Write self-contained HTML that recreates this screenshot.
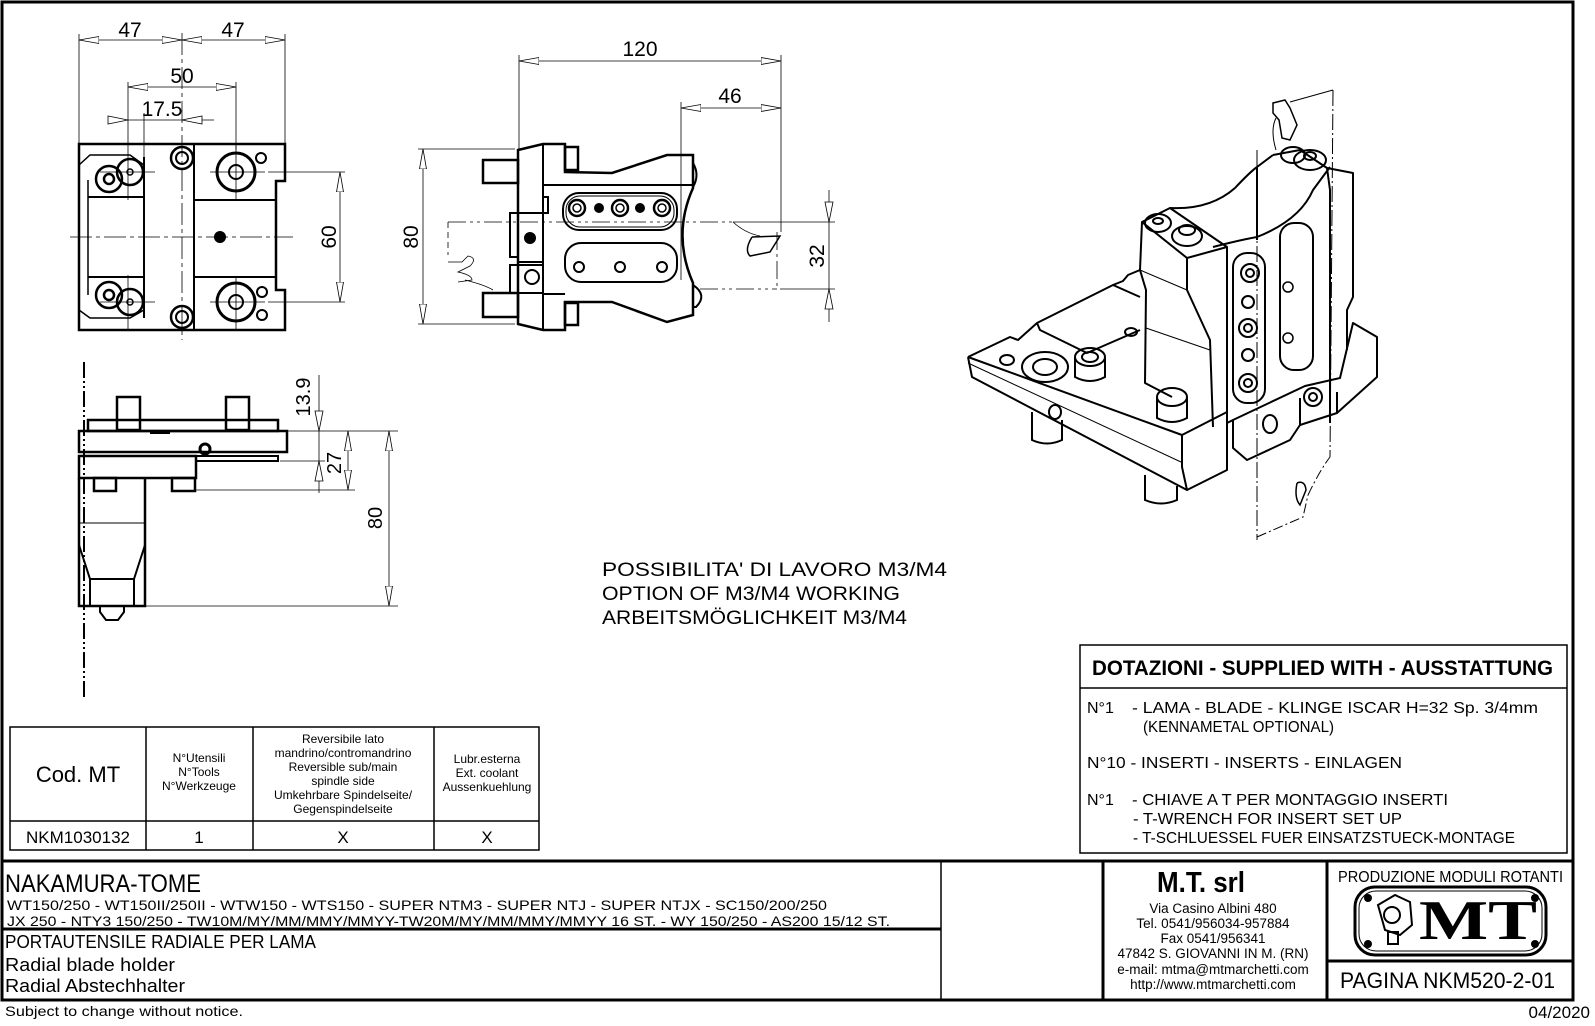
<!DOCTYPE html>
<html><head><meta charset="utf-8"><style>
html,body{margin:0;padding:0;background:#fff}
svg{display:block}
text{font-family:"Liberation Sans",sans-serif;fill:#000}
</style></head><body>
<svg width="1595" height="1026" viewBox="0 0 1595 1026" xmlns="http://www.w3.org/2000/svg">
<defs>
<marker id="ar" viewBox="0 0 20 8" refX="20" refY="4" markerWidth="20" markerHeight="8" markerUnits="userSpaceOnUse" orient="auto-start-reverse">
<path d="M0,0.5 L20,4 L0,7.5 Z" fill="#fff" stroke="#000" stroke-width="0.8"/>
</marker>
</defs>
<rect x="0" y="0" width="1595" height="1026" fill="#fff"/>
<!-- frame -->
<rect x="2" y="2" width="1571" height="998" fill="none" stroke="#000" stroke-width="3"/>

<!-- ============ TOP-LEFT VIEW ============ -->
<g fill="none" stroke="#000">
<path d="M79,144 L285,144 L285,181 L276,181 L276,290 L285,290 L285,330 L79,330 Z" stroke-width="2.5"/>
<line x1="194" y1="144" x2="194" y2="330" stroke-width="2"/>
<line x1="88" y1="180" x2="88" y2="295" stroke-width="1.5"/>
<line x1="144" y1="157" x2="144" y2="318" stroke-width="2"/>
<line x1="88" y1="197" x2="144" y2="197" stroke-width="2"/>
<line x1="88" y1="277" x2="144" y2="277" stroke-width="2"/>
<line x1="194" y1="200" x2="276" y2="200" stroke-width="2"/>
<line x1="194" y1="277" x2="276" y2="277" stroke-width="2"/>
<path d="M79,165 L90,155 L130,155 L144,165" stroke-width="1.5"/>
<path d="M79,310 L90,318 L130,318 L144,310" stroke-width="1.5"/>
<circle cx="109" cy="179" r="13" stroke-width="2.5"/><circle cx="109" cy="179" r="5" stroke-width="2.5"/>
<circle cx="130" cy="172" r="13" stroke-width="2.5"/><circle cx="130" cy="172" r="3" stroke-width="1.5"/>
<circle cx="109" cy="295" r="13" stroke-width="2.5"/><circle cx="109" cy="295" r="5" stroke-width="2.5"/>
<circle cx="130" cy="302" r="13" stroke-width="2.5"/><circle cx="130" cy="302" r="3" stroke-width="1.5"/>
<circle cx="182" cy="158" r="11" stroke-width="2.5"/><circle cx="182" cy="158" r="6" stroke-width="2"/>
<circle cx="182" cy="317" r="11" stroke-width="2.5"/><circle cx="182" cy="317" r="6" stroke-width="2"/>
<circle cx="236" cy="172" r="19" stroke-width="3"/><circle cx="236" cy="172" r="7" stroke-width="2"/>
<circle cx="236" cy="302" r="19" stroke-width="3"/><circle cx="236" cy="302" r="7" stroke-width="2"/>
<circle cx="261" cy="158" r="5" stroke-width="2"/><circle cx="262" cy="292" r="5" stroke-width="2"/><circle cx="262" cy="315" r="5" stroke-width="2"/>
</g>
<circle cx="220" cy="237" r="6" fill="#000"/>
<g stroke="#000" stroke-width="0.8" fill="none">
<line x1="70" y1="237" x2="293" y2="237" stroke-dasharray="22 4 4 4"/>
<line x1="182" y1="33" x2="182" y2="340" stroke-dasharray="22 4 4 4"/>
<line x1="100" y1="172" x2="155" y2="172"/><line x1="210" y1="172" x2="265" y2="172"/>
<line x1="100" y1="302" x2="155" y2="302"/><line x1="210" y1="302" x2="265" y2="302"/>
<line x1="236" y1="145" x2="236" y2="200"/><line x1="236" y1="277" x2="236" y2="330"/>
<line x1="128" y1="150" x2="128" y2="200"/><line x1="128" y1="275" x2="128" y2="330"/>
<!-- dims -->
<line x1="79" y1="34" x2="79" y2="144"/><line x1="285" y1="34" x2="285" y2="144"/>
<line x1="79" y1="40" x2="182" y2="40" marker-start="url(#ar)" marker-end="url(#ar)"/>
<line x1="182" y1="40" x2="285" y2="40" marker-start="url(#ar)" marker-end="url(#ar)"/>
<line x1="128" y1="82" x2="128" y2="150"/><line x1="236" y1="82" x2="236" y2="150"/>
<line x1="128" y1="87" x2="236" y2="87" marker-start="url(#ar)" marker-end="url(#ar)"/>
<line x1="144" y1="113" x2="144" y2="157"/>
<line x1="112" y1="120" x2="214" y2="120"/>
<line x1="268" y1="172" x2="345" y2="172"/><line x1="268" y1="302" x2="345" y2="302"/>
<line x1="340" y1="172" x2="340" y2="302" marker-start="url(#ar)" marker-end="url(#ar)"/>
</g>
<polygon points="128,120 108,116 108,124" fill="#fff" stroke="#000" stroke-width="0.8" transform="translate(0,0)"/>
<polygon points="182,120 202,116 202,124" fill="#fff" stroke="#000" stroke-width="0.8"/>
<text x="130" y="37" font-size="21" text-anchor="middle">47</text>
<text x="233" y="37" font-size="21" text-anchor="middle">47</text>
<text x="182" y="83" font-size="21" text-anchor="middle">50</text>
<text x="162" y="116" font-size="21" text-anchor="middle">17.5</text>
<text transform="translate(336,237) rotate(-90)" font-size="21" text-anchor="middle">60</text>

<!-- ============ TOP-MIDDLE VIEW ============ -->
<g fill="none" stroke="#000" stroke-width="2.5">
<rect x="483" y="160" width="35" height="23"/>
<rect x="483" y="293" width="35" height="24"/>
<path d="M518,150 L543,144 L565,144 L565,172 L612,173 L667,155 L693,155 L693,188 Q672,235 693,283 L693,315 L667,322 L612,302 L565,302 L565,330 L543,330 L518,324 Z"/>
<rect x="565" y="147" width="13" height="23"/>
<rect x="565" y="303" width="13" height="22"/>
<line x1="543" y1="144" x2="543" y2="330" stroke-width="2"/>
<line x1="543" y1="185" x2="693" y2="185" stroke-width="2"/>
<line x1="543" y1="294" x2="565" y2="294" stroke-width="2"/>
<path d="M543,197 L548,197 L548,213 L510,213 L510,257 L518,257 L518,262 L543,262" stroke-width="2"/>
<rect x="510" y="265" width="33" height="28" stroke-width="2"/>
<rect x="563" y="193" width="114" height="37" rx="16" stroke-width="2"/>
<rect x="566" y="196" width="108" height="31" rx="14" stroke-width="1"/>
<rect x="565" y="243" width="112" height="39" rx="16" stroke-width="2"/>
<circle cx="577" cy="208" r="8"/><circle cx="577" cy="208" r="4" stroke-width="1.5"/>
<circle cx="620" cy="208" r="8"/><circle cx="620" cy="208" r="4" stroke-width="1.5"/>
<circle cx="662" cy="208" r="8"/><circle cx="662" cy="208" r="4" stroke-width="1.5"/>
<circle cx="579" cy="267" r="5" stroke-width="2"/><circle cx="620" cy="267" r="5" stroke-width="2"/><circle cx="662" cy="267" r="5" stroke-width="2"/>
<circle cx="532" cy="277" r="7" stroke-width="2"/>
<path d="M693,163 Q700,175 693,187" stroke-width="2"/>
<path d="M693,285 Q708,295 696,307 L693,307" stroke-width="2"/>
</g>
<circle cx="599" cy="208" r="5" fill="#000"/><circle cx="640" cy="208" r="5" fill="#000"/>
<circle cx="530" cy="238" r="6" fill="#000"/>
<g stroke="#000" stroke-width="0.8" fill="none">
<line x1="448" y1="222" x2="733" y2="222" stroke-dasharray="18 4 3 4 3 4"/>
<line x1="700" y1="289" x2="777" y2="289" stroke-dasharray="18 4 3 4 3 4"/>
<line x1="777" y1="232" x2="777" y2="289" stroke-dasharray="18 4 3 4"/>
<line x1="448" y1="222" x2="448" y2="255" stroke-dasharray="6 4"/>
<path d="M733,222 Q745,233 760,236"/>
<path d="M752,237 L780,236 L770,252 L750,256 Q744,250 752,237" stroke-width="1.5"/>
<path d="M448,262 L462,262 L468,256 Q478,258 470,266 L458,272 Q472,275 472,280 L458,282"/>
<path d="M465,280 Q485,285 493,290"/>
<!-- dims -->
<line x1="519" y1="55" x2="519" y2="150"/><line x1="781" y1="55" x2="781" y2="232"/>
<line x1="519" y1="61" x2="781" y2="61" marker-start="url(#ar)" marker-end="url(#ar)"/>
<line x1="681" y1="102" x2="681" y2="280"/>
<line x1="681" y1="108" x2="781" y2="108" marker-start="url(#ar)" marker-end="url(#ar)"/>
<line x1="418" y1="149" x2="515" y2="149"/><line x1="418" y1="324" x2="515" y2="324"/>
<line x1="423" y1="149" x2="423" y2="324" marker-start="url(#ar)" marker-end="url(#ar)"/>
<line x1="733" y1="222" x2="835" y2="222"/><line x1="780" y1="289" x2="835" y2="289"/>
<line x1="829" y1="190" x2="829" y2="322"/>
</g>
<polygon points="829,222 825,202 833,202" fill="#fff" stroke="#000" stroke-width="0.8"/>
<polygon points="829,289 825,309 833,309" fill="#fff" stroke="#000" stroke-width="0.8"/>
<text x="640" y="56" font-size="21" text-anchor="middle">120</text>
<text x="730" y="103" font-size="21" text-anchor="middle">46</text>
<text transform="translate(418,237) rotate(-90)" font-size="21" text-anchor="middle">80</text>
<text transform="translate(824,256) rotate(-90)" font-size="21" text-anchor="middle">32</text>

<!-- ============ SIDE VIEW ============ -->
<g fill="none" stroke="#000" stroke-width="2.5">
<rect x="88" y="420" width="190" height="11"/>
<rect x="117" y="397" width="23" height="33"/>
<rect x="226" y="397" width="23" height="33"/>
<rect x="79" y="431" width="208" height="21"/>
<rect x="79" y="456" width="117" height="22"/>
<rect x="196" y="456" width="82" height="5" stroke-width="2"/>
<rect x="94" y="478" width="22" height="13"/>
<rect x="172" y="478" width="23" height="13"/>
<path d="M79,478 L79,606 L145,606 L145,478"/>
<line x1="79" y1="523" x2="145" y2="523" stroke-width="1"/>
<path d="M79,545 L90,579 L134,579 L145,545" stroke-width="2"/>
<line x1="90" y1="579" x2="90" y2="606" stroke-width="2"/>
<line x1="134" y1="579" x2="134" y2="606" stroke-width="2"/>
<path d="M100,606 L100,612 L106,620 L118,620 L124,612 L124,606" stroke-width="2"/>
<line x1="150" y1="433" x2="170" y2="433" stroke-width="2"/>
</g>
<circle cx="205" cy="449" r="5" fill="none" stroke="#000" stroke-width="3"/>
<g stroke="#000" stroke-width="0.8" fill="none">
<line x1="84" y1="362" x2="84" y2="700" stroke-dasharray="16 3 2 3 2 3" stroke-width="2"/>
<line x1="287" y1="431" x2="398" y2="431"/>
<line x1="280" y1="461" x2="325" y2="461"/>
<line x1="196" y1="490" x2="355" y2="490"/>
<line x1="145" y1="606" x2="398" y2="606"/>
<line x1="319" y1="375" x2="319" y2="493"/>
<line x1="348" y1="431" x2="348" y2="490" marker-start="url(#ar)" marker-end="url(#ar)"/>
<line x1="389" y1="431" x2="389" y2="606" marker-start="url(#ar)" marker-end="url(#ar)"/>
</g>
<polygon points="319,431 315,411 323,411" fill="#fff" stroke="#000" stroke-width="0.8"/>
<polygon points="319,461 315,481 323,481" fill="#fff" stroke="#000" stroke-width="0.8"/>
<text transform="translate(310,397) rotate(-90)" font-size="20" text-anchor="middle">13.9</text>
<text transform="translate(341,463) rotate(-90)" font-size="20" text-anchor="middle">27</text>
<text transform="translate(382,518) rotate(-90)" font-size="20" text-anchor="middle">80</text>

<!-- note text -->
<text x="602" y="576" font-size="19" textLength="345" lengthAdjust="spacingAndGlyphs">POSSIBILITA' DI LAVORO M3/M4</text>
<text x="602" y="600" font-size="19" textLength="298" lengthAdjust="spacingAndGlyphs">OPTION OF M3/M4 WORKING</text>
<text x="602" y="624" font-size="19" textLength="305" lengthAdjust="spacingAndGlyphs">ARBEITSMÖGLICHKEIT M3/M4</text>

<!-- ============ 3D VIEW ============ -->
<g fill="none" stroke="#000" stroke-width="2" stroke-linejoin="round">
<!-- base -->
<path d="M968,357 L1010,337 L1018,340 L1037,323 L1113,285 L1140,297"/>
<path d="M968,357 L1182,435 L1227,412"/>
<path d="M968,357 L972,377 L1187,490 L1227,470 L1227,412"/>
<line x1="968" y1="363" x2="1181" y2="462" stroke-width="1"/>
<path d="M1182,435 L1182,467 L1187,490"/>
<path d="M1037,323 L1040,330 L1087,353 L1140,330"/>
<path d="M1113,285 L1123,281 L1128,275 L1140,270"/>
<!-- right block under upright -->
<path d="M1227,423 L1233,420 L1305,386 L1340,378 L1353,323 L1377,337 L1377,377 L1337,413"/>
<path d="M1233,420 L1233,448 L1247,460 L1290,440 L1300,425 L1300,398"/>
<path d="M1300,425 L1337,413 L1337,392"/>
<!-- left tower -->
<path d="M1142,222 L1170,208 L1227,247 L1187,258 Z"/>
<path d="M1142,222 L1140,270 L1146,290 L1145,383 L1172,397"/>
<path d="M1187,258 L1187,290 L1210,340 L1213,427"/>
<path d="M1227,247 L1227,437"/>
<line x1="1140" y1="270" x2="1187" y2="290" stroke-width="1"/>
<line x1="1146" y1="328" x2="1210" y2="350" stroke-width="1"/>
<!-- saddle + back upright -->
<path d="M1170,208 Q1210,210 1235,188 Q1250,172 1257,167 L1273,155"/>
<path d="M1213,247 Q1240,240 1257,237 Q1300,220 1313,190 L1330,167"/>
<path d="M1273,155 L1300,150 L1327,168 L1353,173 L1353,297 L1347,310 L1347,350"/>
<path d="M1327,168 L1330,190 L1330,423"/>
<path d="M1257,167 L1257,240"/>
<rect x="1280" y="223" width="33" height="147" rx="14"/>
<!-- insert plate -->
<rect x="1233" y="253" width="32" height="150" rx="14"/>
</g>
<g fill="none" stroke="#000" stroke-width="2">
<circle cx="1250" cy="273" r="9"/><circle cx="1250" cy="273" r="4"/>
<circle cx="1248" cy="302" r="6"/>
<circle cx="1248" cy="328" r="9"/><circle cx="1248" cy="328" r="4"/>
<circle cx="1248" cy="355" r="6"/>
<circle cx="1248" cy="383" r="9"/><circle cx="1248" cy="383" r="4"/>
<circle cx="1288" cy="287" r="5" stroke-width="1.5"/><circle cx="1288" cy="338" r="5" stroke-width="1.5"/>
<ellipse cx="1158" cy="223" rx="13" ry="9"/><ellipse cx="1158" cy="221" rx="5" ry="3"/>
<ellipse cx="1187" cy="236" rx="15" ry="10"/><ellipse cx="1187" cy="230" rx="8" ry="5"/>
<ellipse cx="1293" cy="155" rx="12" ry="8"/>
<ellipse cx="1310" cy="160" rx="16" ry="10"/><ellipse cx="1310" cy="156" rx="6" ry="4"/>
<ellipse cx="1045" cy="367" rx="23" ry="15"/><ellipse cx="1045" cy="367" rx="12" ry="8"/>
<ellipse cx="1007" cy="360" rx="7" ry="5"/>
<ellipse cx="1090" cy="357" rx="15" ry="9"/><ellipse cx="1090" cy="357" rx="8" ry="5"/>
<path d="M1075,357 L1075,377 Q1090,385 1105,377 L1105,357"/>
<ellipse cx="1172" cy="397" rx="15" ry="9"/>
<path d="M1157,397 L1157,418 Q1172,426 1187,418 L1187,397"/>
<path d="M1032,412 L1032,440 Q1047,447 1062,440 L1062,420"/>
<path d="M1145,475 L1145,500 Q1161,507 1177,500 L1177,486"/>
<ellipse cx="1055" cy="412" rx="6" ry="7"/>
<ellipse cx="1270" cy="424" rx="7" ry="9"/>
<circle cx="1313" cy="397" r="9"/><circle cx="1313" cy="397" r="4"/>
<ellipse cx="1131" cy="332" rx="6" ry="4"/>
</g>
<g fill="none" stroke="#000" stroke-width="1">
<line x1="1257" y1="150" x2="1257" y2="540" stroke-dasharray="16 3 2 3"/>
<line x1="1333" y1="90" x2="1330" y2="457" stroke-dasharray="16 3 2 3"/>
<path d="M1257,537 L1303,517 L1308,495" stroke-dasharray="10 3 2 3"/>
<path d="M1308,495 Q1320,470 1330,457" stroke-dasharray="10 3 2 3"/>
<path d="M1273,103 L1285,100 L1290,108 L1297,125 L1290,140 L1282,138 L1279,120 L1273,113 Z" stroke-width="1.5"/>
<path d="M1276,118 Q1270,130 1276,150"/>
<path d="M1290,102 L1333,90"/>
<path d="M1297,483 Q1305,480 1306,490 L1300,505 Q1294,498 1297,483" stroke-width="1.5"/>
</g>

<!-- ============ TABLE ============ -->
<g fill="none" stroke="#000" stroke-width="1.5">
<rect x="10" y="727" width="529" height="123"/>
<line x1="10" y1="821" x2="539" y2="821"/>
<line x1="146" y1="727" x2="146" y2="850"/>
<line x1="253" y1="727" x2="253" y2="850"/>
<line x1="434" y1="727" x2="434" y2="850"/>
</g>
<text x="78" y="782" font-size="22" text-anchor="middle">Cod. MT</text>
<g font-size="12" text-anchor="middle">
<text x="199" y="762">N°Utensili</text><text x="199" y="776">N°Tools</text><text x="199" y="790">N°Werkzeuge</text>
<text x="343" y="743">Reversibile lato</text><text x="343" y="757">mandrino/contromandrino</text><text x="343" y="771">Reversible sub/main</text><text x="343" y="785">spindle side</text><text x="343" y="799">Umkehrbare Spindelseite/</text><text x="343" y="813">Gegenspindelseite</text>
<text x="487" y="763">Lubr.esterna</text><text x="487" y="777">Ext. coolant</text><text x="487" y="791">Aussenkuehlung</text>
</g>
<g font-size="17" text-anchor="middle">
<text x="78" y="843">NKM1030132</text><text x="199" y="843">1</text><text x="343" y="843">X</text><text x="487" y="843">X</text>
</g>

<!-- ============ DOTAZIONI ============ -->
<g fill="none" stroke="#000" stroke-width="1.5">
<rect x="1080" y="645" width="487" height="208"/>
<line x1="1080" y1="688" x2="1567" y2="688"/>
</g>
<text x="1092" y="675" font-size="21" font-weight="bold" textLength="461" lengthAdjust="spacingAndGlyphs">DOTAZIONI - SUPPLIED WITH - AUSSTATTUNG</text>
<g font-size="16">
<text x="1087" y="713">N°1</text>
<text x="1132" y="713" textLength="406" lengthAdjust="spacingAndGlyphs">- LAMA - BLADE - KLINGE ISCAR H=32 Sp. 3/4mm</text>
<text x="1143" y="732" textLength="191" lengthAdjust="spacingAndGlyphs">(KENNAMETAL OPTIONAL)</text>
<text x="1087" y="768" textLength="315" lengthAdjust="spacingAndGlyphs">N°10 - INSERTI - INSERTS - EINLAGEN</text>
<text x="1087" y="805">N°1</text>
<text x="1132" y="805" textLength="316" lengthAdjust="spacingAndGlyphs">- CHIAVE A T PER MONTAGGIO INSERTI</text>
<text x="1133" y="824" textLength="269" lengthAdjust="spacingAndGlyphs">- T-WRENCH FOR INSERT SET UP</text>
<text x="1133" y="843" textLength="382" lengthAdjust="spacingAndGlyphs">- T-SCHLUESSEL FUER EINSATZSTUECK-MONTAGE</text>
</g>

<!-- ============ TITLE BLOCK ============ -->
<g fill="none" stroke="#000">
<line x1="2" y1="861" x2="1573" y2="861" stroke-width="3"/>
<line x1="2" y1="929" x2="941" y2="929" stroke-width="3"/>
<line x1="941" y1="861" x2="941" y2="1000" stroke-width="1.5"/>
<line x1="1103" y1="861" x2="1103" y2="1000" stroke-width="3"/>
<line x1="1327" y1="861" x2="1327" y2="1000" stroke-width="3"/>
<line x1="1327" y1="961" x2="1573" y2="961" stroke-width="3"/>
<rect x="1355" y="887" width="191" height="68" rx="20" stroke-width="3"/>
<rect x="1359" y="891" width="183" height="60" rx="17" stroke-width="1"/>
</g>
<text x="5" y="892" font-size="25" textLength="196" lengthAdjust="spacingAndGlyphs">NAKAMURA-TOME</text>
<text x="7" y="910" font-size="14" textLength="820" lengthAdjust="spacingAndGlyphs">WT150/250 - WT150II/250II - WTW150 - WTS150 - SUPER NTM3 - SUPER NTJ - SUPER NTJX - SC150/200/250</text>
<text x="7" y="926" font-size="14" textLength="883" lengthAdjust="spacingAndGlyphs">JX 250 - NTY3 150/250 - TW10M/MY/MM/MMY/MMYY-TW20M/MY/MM/MMY/MMYY 16 ST. - WY 150/250 - AS200 15/12 ST.</text>
<text x="5" y="948" font-size="18" textLength="311" lengthAdjust="spacingAndGlyphs">PORTAUTENSILE RADIALE PER LAMA</text>
<text x="5" y="971" font-size="18" textLength="170" lengthAdjust="spacingAndGlyphs">Radial blade holder</text>
<text x="5" y="992" font-size="18" textLength="180" lengthAdjust="spacingAndGlyphs">Radial Abstechhalter</text>
<text x="5" y="1016" font-size="14" textLength="238" lengthAdjust="spacingAndGlyphs">Subject to change without notice.</text>
<text x="1590" y="1018" font-size="17" text-anchor="end">04/2020</text>

<text x="1201" y="892" font-size="29" font-weight="bold" text-anchor="middle" textLength="88" lengthAdjust="spacingAndGlyphs">M.T. srl</text>
<g font-size="13.5" text-anchor="middle">
<text x="1213" y="913">Via Casino Albini 480</text>
<text x="1213" y="928">Tel. 0541/956034-957884</text>
<text x="1213" y="943">Fax 0541/956341</text>
<text x="1213" y="958">47842 S. GIOVANNI IN M. (RN)</text>
<text x="1213" y="974">e-mail: mtma@mtmarchetti.com</text>
<text x="1213" y="989">http://www.mtmarchetti.com</text>
</g>
<text x="1338" y="882" font-size="16" textLength="225" lengthAdjust="spacingAndGlyphs">PRODUZIONE MODULI ROTANTI</text>
<text x="1478" y="939" font-size="56" font-weight="bold" text-anchor="middle" style="font-family:'Liberation Serif',serif" textLength="118" lengthAdjust="spacingAndGlyphs">MT</text>
<g fill="#000">
<circle cx="1368" cy="898" r="4"/><circle cx="1535" cy="898" r="4"/><circle cx="1368" cy="944" r="4"/><circle cx="1535" cy="944" r="4"/>
</g>
<g fill="none" stroke="#000" stroke-width="2">
<path d="M1378,905 L1395,895 L1410,902 L1412,925 L1400,935 L1385,930 Z"/>
<circle cx="1392" cy="915" r="8"/>
<rect x="1388" y="932" width="10" height="12"/>
</g>
<text x="1340" y="988" font-size="22" textLength="215" lengthAdjust="spacingAndGlyphs">PAGINA NKM520-2-01</text>
</svg>
</body></html>
